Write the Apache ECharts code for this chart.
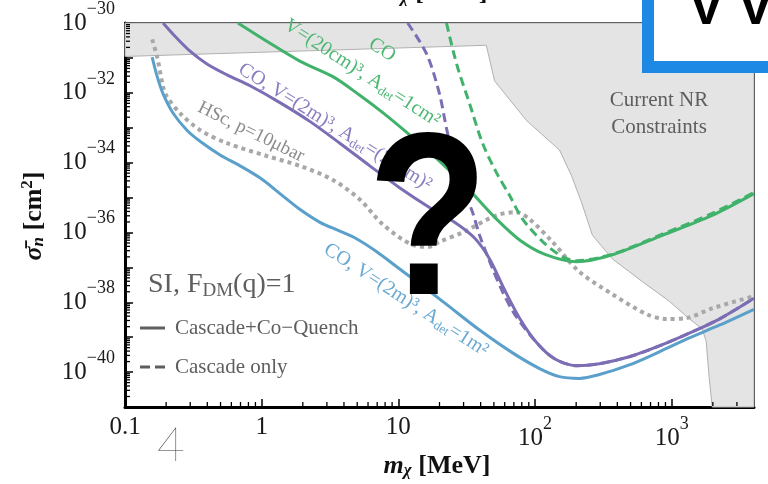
<!DOCTYPE html>
<html><head><meta charset="utf-8">
<script src="https://cdn.jsdelivr.net/npm/echarts@6/dist/echarts.min.js"></script>
<style>html,body{margin:0;padding:0;background:#fff}#c{width:768px;height:484px}</style>
</head><body><div id="c"></div>
<script>
// ---------- data (mass in MeV, cross-section in cm^2) ----------
const xTickValues = [0.1, 1, 10, 100, 1000];
const xTickBase   = ['0.1', '1', '10', '10', '10'];
const xTickSup    = ['', '', '', '2', '3'];
const yTickExponents = [-30, -32, -34, -36, -38, -40];

const regionMass  = [0.1, 0.1, 44, 50.6, 86.7, 151, 185, 219, 263, 368, 610, 960, 1277, 1671, 1787, 1880, 1977, 4000, 4000];
const regionSigma = [1e-30, 1.1e-31, 2.3e-31, 2.2e-32, 1.6e-33, 2.3e-34, 4.2e-35, 7.2e-36, 8.3e-37, 1.75e-37, 3.9e-38, 1.07e-38, 4.0e-39, 1.7e-39, 7.8e-40, 7.0e-41, 1e-41, 1e-41, 1e-30];

const greenSolidMass  = [0.67, 1.09, 1.9, 3.32, 5.22, 7.69, 12.1, 20, 33.2, 52.3, 77.1, 117, 201, 368, 853, 1977, 4000];
const greenSolidSigma = [1.0e-30, 3.0e-31, 8.1e-32, 2.9e-32, 8.5e-33, 2.7e-33, 6.2e-34, 1.1e-34, 1.6e-35, 2.4e-36, 6.1e-37, 2.4e-37, 1.45e-37, 2.3e-37, 8.3e-37, 3.1e-36, 1.3e-35];

const greenDashMass  = [22.5, 26.7, 33.2, 41.3, 52.3, 65.2, 81.1, 114, 159, 201, 368, 853, 1977, 4000];
const greenDashSigma = [1.0e-30, 6.6e-32, 4.9e-33, 3.6e-34, 5.1e-35, 1.15e-35, 2.4e-36, 5.4e-37, 2.0e-37, 1.55e-37, 2.4e-37, 8.9e-37, 3.5e-36, 1.4e-35];

const purpleSolidMass  = [0.19, 0.233, 0.299, 0.398, 0.558, 0.822, 1.36, 2.25, 3.73, 6.18, 10.2, 16.9, 25.8, 36.1, 46.5, 59.8, 77.1, 103, 139, 201, 296, 490, 811, 1345, 2228, 4000];
const purpleSolidSigma = [1.0e-30, 4.1e-31, 1.56e-31, 6.7e-32, 3.26e-32, 1.59e-32, 5.25e-33, 1.52e-33, 3.6e-34, 8.1e-35, 1.92e-35, 5.2e-36, 1.96e-36, 6.9e-37, 1.75e-37, 2.3e-38, 3.5e-39, 6.9e-40, 2.4e-40, 1.53e-40, 1.74e-40, 2.75e-40, 5.6e-40, 1.3e-39, 3.3e-39, 1.3e-38];

const purpleDashMass  = [11.7, 16.1, 20, 22.5, 25.8, 30.5, 34.9, 39.3, 48.9, 57.9, 70.8, 103, 139, 201, 296, 490, 811, 1345, 2228, 4000];
const purpleDashSigma = [1.0e-30, 1.3e-31, 9.3e-33, 9.6e-34, 9.7e-35, 1.4e-35, 3.8e-36, 8.3e-37, 9.1e-38, 2.0e-38, 4.6e-39, 6.9e-40, 2.4e-40, 1.53e-40, 1.74e-40, 2.75e-40, 5.6e-40, 1.3e-39, 3.3e-39, 1.3e-38];

const blueMass  = [0.158, 0.172, 0.19, 0.225, 0.284, 0.354, 0.496, 0.695, 0.988, 1.36, 1.9, 2.67, 3.73, 4.97, 6.95, 9.73, 14.3, 22.5, 39.3, 68.5, 108, 151, 211, 296, 490, 811, 1345, 2228, 4000];
const blueSigma = [1.05e-31, 2.9e-32, 9.3e-33, 2.6e-33, 8.5e-34, 4.1e-34, 1.66e-34, 8.1e-35, 3.5e-35, 1.3e-35, 4.6e-36, 1.95e-36, 1.09e-36, 6.5e-37, 2.8e-37, 1.04e-37, 3.4e-38, 8.7e-39, 1.6e-39, 3.55e-40, 1.26e-40, 7.4e-41, 6.6e-41, 8.5e-41, 1.6e-40, 3.8e-40, 9.5e-40, 2.2e-39, 6.3e-39];

const grayMass  = [0.158, 0.172, 0.19, 0.203, 0.253, 0.354, 0.558, 1.09, 1.9, 3.32, 5.22, 7.69, 12.7, 16.9, 20, 29.5, 52.3, 73.3, 91.2, 134, 211, 368, 652, 912, 1276, 1977, 4000];
const graySigma = [3.4e-31, 1.05e-31, 1.5e-32, 7.7e-33, 2.6e-33, 8.5e-34, 3.6e-34, 1.55e-34, 8.1e-35, 3.2e-35, 8.8e-36, 1.7e-36, 4.4e-37, 3.9e-37, 5.4e-37, 1.0e-36, 3.1e-36, 3.8e-36, 2.4e-36, 5.4e-37, 7.5e-38, 1.7e-38, 4.6e-39, 3.3e-39, 3.5e-39, 6.7e-39, 1.5e-38];

// ---------- styling ----------
const SERIF = '"Liberation Serif","DejaVu Serif",serif';
const C_GREEN = '#40b26b', C_PURPLE = '#7c6db4', C_BLUE = '#5ba0cb', C_GRAY = '#a8a8a8';
const X_MIN = Math.log10(0.1), X_MAX = Math.log10(4000), Y_MIN = -41, Y_MAX = -30;

const toPts = (m, s) => m.map((v, i) => [Math.log10(v), Math.log10(s[i])]);

const xMinor = [], yMinor = [];
for (let n = -1; n <= 3; n++) for (let k = 2; k <= 9; k++) { const v = n + Math.log10(k); if (v < X_MAX) xMinor.push([v, Y_MIN]); }
for (let n = -41; n <= -31; n++) for (let k = 2; k <= 9; k++) yMinor.push([X_MIN, n + Math.log10(k)]);

function line(mass, sigma, color, dash, width) {
  return { type: 'line', data: toPts(mass, sigma), showSymbol: false, smooth: 0.3, silent: true, z: 3,
    lineStyle: { color, width: width || 3, type: dash || 'solid', cap: 'butt' } };
}

const supRich = {
  b: { fontSize: 25, fontFamily: SERIF, color: '#1a1a1a' },
  s: { fontSize: 18, fontFamily: SERIF, color: '#1a1a1a', padding: [0, 0, 28, 0] }
};

function lbl(x, y, rot, text, color, size, rich) {
  return { type: 'text', x, y, rotation: rot, z: 50, silent: true,
    style: { text, fill: color, fontSize: size, fontFamily: SERIF, align: 'center', verticalAlign: 'middle', rich: rich || {} } };
}
function subRich(color, size) {
  return { sub: { fill: color, fontSize: size, fontFamily: SERIF, padding: [10, 0, 0, 0] } };
}
const deg = d => d * Math.PI / 180;
const titleRich = {
  m: { fontSize: 26, fontFamily: SERIF, fontWeight: 'bold', fontStyle: 'italic', fill: '#111' },
  s: { fontSize: 17, fontFamily: SERIF, fontWeight: 'bold', fontStyle: 'italic', fill: '#111', padding: [10, 0, 0, 0] },
  b: { fontSize: 26, fontFamily: SERIF, fontWeight: 'bold', fill: '#111' },
  p: { fontSize: 17, fontFamily: SERIF, fontWeight: 'bold', fill: '#111', padding: [0, 0, 12, 0] }
};

const option = {
  animation: false,
  grid: { left: 125, right: 14, top: 18, bottom: 77, show: true, borderColor: '#111', borderWidth: 2, backgroundColor: 'transparent' },
  xAxis: {
    type: 'value', min: X_MIN, max: X_MAX, interval: 1,
    axisLine: { show: true, onZero: false, lineStyle: { color: '#000', width: 3 } },
    axisTick: { show: true, inside: true, length: 8, lineStyle: { color: '#000', width: 1.5 } },
    splitLine: { show: false },
    axisLabel: {
      margin: 8, color: '#1a1a1a', fontSize: 25, fontFamily: SERIF, rich: supRich,
      formatter: v => {
        const i = xTickValues.findIndex(t => Math.abs(Math.log10(t) - v) < 1e-6);
        if (i < 0) return '';
        return xTickSup[i] ? '{b|' + xTickBase[i] + '}{s|' + xTickSup[i] + '}' : '{b|' + xTickBase[i] + '}';
      }
    }
  },
  yAxis: {
    type: 'value', min: Y_MIN, max: Y_MAX, interval: 1,
    axisLine: { show: true, onZero: false, lineStyle: { color: '#000', width: 3 } },
    axisTick: { show: true, inside: true, length: 8, lineStyle: { color: '#000', width: 1.5 } },
    splitLine: { show: false },
    axisLabel: {
      margin: 10, rich: supRich,
      formatter: v => yTickExponents.includes(Math.round(v)) && Math.abs(v - Math.round(v)) < 1e-6 ? '{b|10}{s|\u2212' + Math.abs(Math.round(v)) + '}' : ''
    }
  },
  series: [
    { type: 'custom', z: 1, silent: true, data: toPts(regionMass, regionSigma),
      renderItem: (p, api) => {
        if (p.dataIndex !== 0) return null;
        const pts = toPts(regionMass, regionSigma).map(d => api.coord(d));
        return { type: 'polygon', shape: { points: pts }, style: { fill: '#e4e4e4', stroke: '#b0b0b0', lineWidth: 1 } };
      } },
    { type: 'custom', z: 6, silent: true, data: xMinor,
      renderItem: (p, api) => { const c = api.coord([api.value(0), api.value(1)]);
        return { type: 'line', shape: { x1: c[0], y1: c[1] - 1, x2: c[0], y2: c[1] - 5 }, style: { stroke: '#000', lineWidth: 1.3 } }; } },
    { type: 'custom', z: 6, silent: true, data: yMinor,
      renderItem: (p, api) => { const c = api.coord([api.value(0), api.value(1)]);
        return { type: 'line', shape: { x1: c[0] + 1, y1: c[1], x2: c[0] + 5, y2: c[1] }, style: { stroke: '#000', lineWidth: 1.3 } }; } },
    line(grayMass, graySigma, C_GRAY, [4, 4], 4),
    line(blueMass, blueSigma, C_BLUE),
    line(purpleSolidMass, purpleSolidSigma, C_PURPLE),
    line(purpleDashMass, purpleDashSigma, C_PURPLE, [9, 5]),
    line(greenSolidMass, greenSolidSigma, C_GREEN),
    line(greenDashMass, greenDashSigma, C_GREEN, [9, 5])
  ],
  graphic: { elements: [
    // curve labels
    lbl(382, 50, -deg(33), 'CO', '#4cb873', 20),
    lbl(362, 73, -deg(33), 'V=(20cm)³, A{sub|det}=1cm²', '#4cb873', 20, subRich('#4cb873', 13)),
    lbl(335, 127, -deg(32), 'CO, V=(2m)³, A{sub|det}=(20cm)²', '#8a7dc0', 20, subRich('#8a7dc0', 13)),
    lbl(406, 300, -deg(33), 'CO, V=(2m)³, A{sub|det}=1m²', '#69a9d1', 20, subRich('#69a9d1', 13)),
    lbl(251, 132, -deg(26), 'HSc, p=10μbar', '#8c8c8c', 19),
    // region label
    { type: 'text', x: 659, y: 114, z: 50, silent: true, style: { text: 'Current NR\nConstraints', fill: '#5e5e5e', fontSize: 21, lineHeight: 27, fontFamily: SERIF, align: 'center', verticalAlign: 'middle' } },
    // annotation
    { type: 'text', x: 148, y: 285, z: 50, silent: true, style: { text: '{a|SI, F}{s|DM}{a|(q)=1}', align: 'left', verticalAlign: 'middle',
      rich: { a: { fontSize: 28, fontFamily: SERIF, fill: '#5e5e5e' }, s: { fontSize: 19, fontFamily: SERIF, fill: '#5e5e5e', padding: [12, 0, 0, 0] } } } },
    // legend
    { type: 'line', z: 50, silent: true, shape: { x1: 140, y1: 328, x2: 165, y2: 328 }, style: { stroke: '#5e5e5e', lineWidth: 3 } },
    { type: 'line', z: 50, silent: true, shape: { x1: 140, y1: 367, x2: 165, y2: 367 }, style: { stroke: '#5e5e5e', lineWidth: 3, lineDash: [10, 5] } },
    { type: 'text', x: 175, y: 328, z: 50, silent: true, style: { text: 'Cascade+Co\u2212Quench', fill: '#5e5e5e', fontSize: 21, fontFamily: SERIF, align: 'left', verticalAlign: 'middle' } },
    { type: 'text', x: 175, y: 367, z: 50, silent: true, style: { text: 'Cascade only', fill: '#5e5e5e', fontSize: 21, fontFamily: SERIF, align: 'left', verticalAlign: 'middle' } },
    // axis titles
    { type: 'text', x: 437, y: 466, z: 50, silent: true, style: { text: '{m|m}{s|χ}{b| [MeV]}', align: 'center', verticalAlign: 'middle', rich: titleRich } },
    { type: 'text', x: 434, y: -7, z: 50, silent: true, style: { text: '{m|m}{s|χ}{b| [MeV]}', align: 'center', verticalAlign: 'middle', rich: titleRich } },
    { type: 'text', x: 34, y: 216, rotation: Math.PI / 2, z: 50, silent: true, style: { text: '{m|σ\u0304}{s|n}{b| [cm}{p|2}{b|]}', align: 'center', verticalAlign: 'middle', rich: titleRich } },
    // overlays from the slide
    { type: 'text', x: 171, y: 446, z: 60, silent: true, style: { text: '4', fill: '#333', fontSize: 48, fontWeight: 200, fontFamily: '"DejaVu Sans ExtraLight","Lato","Noto Sans",sans-serif', align: 'center', verticalAlign: 'middle' } },
    { type: 'text', x: 428, y: 230, scaleX: 0.85, z: 100, silent: true, style: { text: '?', fill: '#000', fontSize: 232, fontWeight: 'bold', fontFamily: '"Liberation Sans",Arial,sans-serif', align: 'center', verticalAlign: 'middle' } },
    { type: 'rect', z: 100, silent: true, shape: { x: 648, y: -100, width: 200, height: 167 }, style: { fill: '#fff', stroke: '#1e88e5', lineWidth: 12 } },
    { type: 'text', x: 689, y: 10, z: 101, silent: true, style: { text: 'V V', fill: '#000', fontSize: 52, fontWeight: 'bold', fontFamily: '"Liberation Sans",Arial,sans-serif', align: 'left', verticalAlign: 'middle' } }
  ] }
};
const chart = echarts.init(document.getElementById('c'), null, { renderer: 'canvas' });
chart.setOption(option);
</script></body></html>
